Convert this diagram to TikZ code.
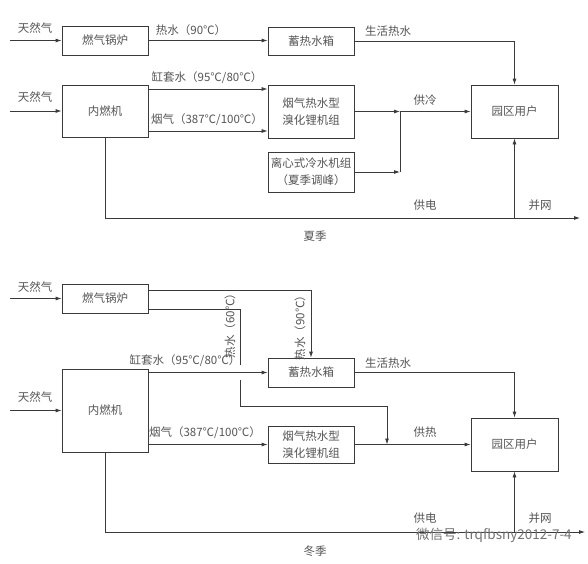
\documentclass[tikz,border=0pt]{standalone}
\usepackage{fontspec}
\setmainfont{Noto Sans CJK SC}
\usetikzlibrary{arrows.meta,calc}
\definecolor{linec}{HTML}{3A3A3A}
\definecolor{txtc}{HTML}{555555}
\newcommand\dgfs{\fontsize{11.5}{17}\selectfont}
\begin{document}
\begin{tikzpicture}[x=1pt,y=-1pt,
 box/.style={draw=linec, line width=0.8pt, minimum width=86pt, inner sep=0pt, align=center, font=\dgfs, text=txtc},
 lab/.style={font=\dgfs, text=txtc, inner sep=0pt},
 conn/.style={draw=linec, line width=0.8pt},
 arr/.style={conn, -{Latex[length=6pt,width=4pt]}},
]
\useasboundingbox[fill=white] (0,0) rectangle (588,563);

% ---------- summer ----------
\node[box, minimum height=29pt] (boilerA) at (105,40.5) {燃气锅炉};
\node[box, minimum height=28pt] (tankA) at (311,41) {蓄热水箱};
\node[box, minimum height=52pt] (iceA) at (105,111) {内燃机};
\node[box, minimum height=53pt] (librA) at (311,111.5) {烟气热水型\\溴化锂机组};
\node[box, minimum height=40pt] (chillA) at (311,172) {离心式冷水机组\\（夏季调峰）};
\node[box, minimum width=87pt, minimum height=53pt] (userA) at (514.5,111.5) {园区用户};

\coordinate (gA1) at (10,40.5);
\coordinate (gA2) at (10,111);
\coordinate (jA) at (400,111.5);
\coordinate (eA) at (580,218);

\draw[arr] (gA1) -- (boilerA.west);
\draw[arr] (gA2) -- (iceA.west);
\draw[arr] (boilerA.east) -- (boilerA.east -| tankA.west);
\draw[arr] (tankA.east) -| (userA.north);
\draw[arr] ([yshift=22pt]iceA.east) -- ([yshift=22pt]iceA.east -| librA.west);
\draw[arr] ([yshift=-20pt]iceA.east) -- ([yshift=-20pt]iceA.east -| librA.west);
\draw[arr] (librA.east) -- (jA);
\draw[arr] (jA) -- (userA.west);
\draw[arr] (chillA.east) -- (chillA.east -| jA);
\draw[conn] (chillA.east -| jA) -- (jA);
\draw[arr] (iceA.south) |- (eA);
\draw[arr] (eA -| userA.south) -- (userA.south);

\node[lab] (tA1) at (35,28) {天然气};
\node[lab] (tA2) at (35,97) {天然气};
\node[lab] (tA3) at (191,30) {热水（90℃）};
\node[lab] (tA4) at (388,31) {生活热水};
\node[lab] (tA5) at (207,78) {缸套水（95℃/80℃）};
\node[lab] (tA6) at (207,120) {烟气（387℃/100℃）};
\node[lab] (tA7) at (425,100) {供冷};
\node[lab] (tA8) at (425,205) {供电};
\node[lab] (tA9) at (540,205) {并网};
\node[lab] (tA10) at (315,236) {夏季};

% ---------- winter ----------
\node[box, minimum height=29pt] (boilerB) at (105,298.5) {燃气锅炉};
\node[box, minimum height=29pt] (tankB) at (311,372.5) {蓄热水箱};
\node[box, minimum height=83pt] (iceB) at (105,410.5) {内燃机};
\node[box, minimum height=37pt] (librB) at (311,444.5) {烟气热水型\\溴化锂机组};
\node[box, minimum width=87pt, minimum height=53pt] (userB) at (514.5,444.5) {园区用户};

\coordinate (gB1) at (10,298.5);
\coordinate (gB2) at (10,410.5);
\coordinate (hB2) at (240,365);
\coordinate (hB3) at (240,380);
\coordinate (hB5) at (387,406);
\coordinate (jB) at (387,444.5);
\coordinate (eB) at (585,532);

\draw[arr] (gB1) -- (boilerB.west);
\draw[arr] (gB2) -- (iceB.west);
\draw[arr] ([yshift=8.5pt]boilerB.east) -| (tankB.north);
\draw[conn] ([yshift=-10.5pt]boilerB.east) -| (hB2);
\draw[arr] (hB3) |- (hB5) -- (jB);
\draw[arr] (iceB.east |- tankB.west) -- (tankB.west);
\draw[arr] (tankB.east) -| (userB.north);
\draw[arr] (iceB.east |- librB.west) -- (librB.west);
\draw[conn] (librB.east) -- (jB);
\draw[arr] (jB) -- (userB.west);
\draw[arr] (iceB.south) |- (eB);
\draw[arr] (eB -| userB.south) -- (userB.south);

\node[lab] (tB1) at (35,287) {天然气};
\node[lab] (tB2) at (35,397) {天然气};
\node[lab, rotate=90] (tB3) at (300,325) {热水（90℃）};
\node[lab, rotate=90] (tB4) at (230,323) {热水（60℃）};
\node[lab] (tB5) at (185,361) {缸套水（95℃/80℃）};
\node[lab] (tB6) at (388,363) {生活热水};
\node[lab] (tB7) at (205,433) {烟气（387℃/100℃）};
\node[lab] (tB8) at (425,432) {供热};
\node[lab] (tB9) at (425,518) {供电};
\node[lab] (tB10) at (540,518) {并网};
\node[lab] (tB11) at (315,551) {冬季};
\node[lab, anchor=west, text=black!55, font=\fontsize{13.5}{16}\selectfont] (wm) at (416,535) {微信号: trqfbsny2012-7-4};
\end{tikzpicture}
\end{document}
